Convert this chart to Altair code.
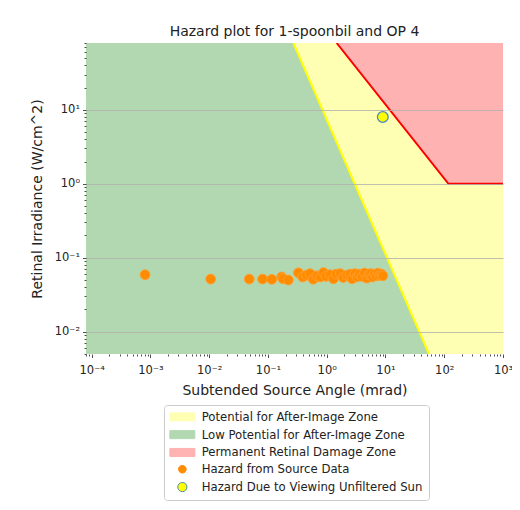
import altair as alt
import pandas as pd

# ---------------- data ----------------
x_domain = [8e-5, 1000]
y_domain = [0.005, 80]

# after-image threshold (yellow line)
afterimage_x = [0.27, 55]
afterimage_y = [80, 0.005]

# permanent retinal damage threshold (red line)
damage_x = [1.475, 118, 1000]
damage_y = [80, 1, 1]

# hazard from source data (orange points)
source_x = [0.00081, 0.0106, 0.048, 0.081, 0.116, 0.171, 0.18, 0.222, 0.33, 0.39,
            0.45, 0.52, 0.59, 0.68, 0.78, 0.88, 0.97, 1.14, 1.3, 1.45,
            1.7, 1.9, 2.2, 2.5, 2.7, 3.0, 3.3, 3.6, 4.0, 4.4,
            4.8, 5.2, 5.6, 6.0, 6.5, 7.0, 7.5, 8.0, 8.6, 9.0]
source_y = [0.059, 0.0515, 0.0515, 0.0515, 0.051, 0.055, 0.052, 0.050, 0.0626, 0.055,
            0.058, 0.061, 0.0513, 0.057, 0.055, 0.063, 0.056, 0.059, 0.052, 0.060,
            0.061, 0.054, 0.058, 0.060, 0.052, 0.061, 0.055, 0.060, 0.056, 0.062,
            0.053, 0.059, 0.061, 0.055, 0.060, 0.057, 0.062, 0.058, 0.060, 0.057]

# unfiltered sun
sun_x = [9.0]
sun_y = [8.0]

x_major = [0.0001, 0.001, 0.01, 0.1, 1, 10, 100, 1000]
x_labels = ["10⁻⁴", "10⁻³", "10⁻²", "10⁻¹", "10⁰", "10¹", "10²", "10³"]
y_major = [0.01, 0.1, 1, 10]
y_labels = ["10⁻²", "10⁻¹", "10⁰", "10¹"]

legend_labels = ["Potential for After-Image Zone",
                 "Low Potential for After-Image Zone",
                 "Permanent Retinal Damage Zone",
                 "Hazard from Source Data",
                 "Hazard Due to Viewing Unfiltered Sun"]

# ---------------- styles ----------------
YELLOW_ZONE = "#ffffb3"
GREEN_ZONE = "#b2d8b2"
RED_ZONE = "#ffb2b2"
ORANGE = "#ff8c00"
SUN_EDGE = "#4a8bbf"
FONT = "DejaVu Sans"
TXT = "#222222"


def minor_ticks(dom):
    out = []
    for d in range(-6, 4):
        for m in range(2, 10):
            v = m * 10.0 ** d
            if dom[0] <= v <= dom[1]:
                out.append(v)
    return out


def label_expr(vals, labs):
    parts = [f"datum.value == {v} ? '{l}'" for v, l in zip(vals, labs)]
    return " : ".join(parts) + " : ''"


def major_test(vals):
    return "indexof([" + ",".join(repr(v) for v in vals) + "], datum.value) >= 0"


x_axis = alt.Axis(
    values=sorted(x_major + minor_ticks(x_domain)),
    labelExpr=label_expr(x_major, x_labels),
    labelOverlap=False, labelFlush=False,
    grid=False, domain=False,
    tickColor=TXT, tickWidth=0.8,
    tickSize={"condition": {"test": major_test(x_major), "value": 3.5}, "value": 2},
    labelFont=FONT, labelFontSize=11.5, labelColor=TXT, labelPadding=7,
    title="Subtended Source Angle (mrad)", titleFont=FONT, titleFontSize=14,
    titleFontWeight="normal", titleColor=TXT, titlePadding=7, zindex=1,
)
y_axis = alt.Axis(
    values=sorted(y_major + minor_ticks(y_domain)),
    labelExpr=label_expr(y_major, y_labels),
    labelOverlap=False, labelFlush=False,
    grid=True, gridColor="#b0b0b0", gridWidth=0.8,
    gridOpacity={"condition": {"test": major_test(y_major), "value": 1}, "value": 0},
    domain=False,
    tickColor=TXT, tickWidth=0.8,
    tickSize={"condition": {"test": major_test(y_major), "value": 3.5}, "value": 2},
    labelFont=FONT, labelFontSize=11.5, labelColor=TXT, labelPadding=3,
    title="Retinal Irradiance (W/cm^2)", titleFont=FONT, titleFontSize=14,
    titleFontWeight="normal", titleColor=TXT, titlePadding=10, zindex=1,
)
xs = alt.Scale(type="log", domain=x_domain, nice=False)
ys = alt.Scale(type="log", domain=y_domain, nice=False)


def X(f="x"):
    return alt.X(f"{f}:Q", scale=xs, axis=x_axis)


def Y(f="y"):
    return alt.Y(f"{f}:Q", scale=ys, axis=y_axis)


yellow_df = pd.DataFrame({"x": x_domain, "y": y_domain[1], "y2": y_domain[0]})
green_df = pd.DataFrame({"x": [x_domain[0]] + afterimage_x,
                         "y": [y_domain[1]] + afterimage_y,
                         "y2": y_domain[0]})
red_df = pd.DataFrame({"x": damage_x, "y": damage_y, "y2": y_domain[1]})
yline_df = pd.DataFrame({"x": afterimage_x, "y": afterimage_y})
rline_df = pd.DataFrame({"x": damage_x, "y": damage_y})
src_df = pd.DataFrame({"x": source_x, "y": source_y})
sun_df = pd.DataFrame({"x": sun_x, "y": sun_y})
leg_df = pd.DataFrame({"zone": legend_labels})

yellow = alt.Chart(yellow_df).mark_area(color=YELLOW_ZONE, opacity=1, clip=True).encode(
    x=X(), y=Y(), y2="y2:Q")
green = alt.Chart(green_df).mark_area(color=GREEN_ZONE, opacity=1, clip=True).encode(
    x=X(), y=Y(), y2="y2:Q")
red = alt.Chart(red_df).mark_area(color=RED_ZONE, opacity=1, clip=True).encode(
    x=X(), y=Y(), y2="y2:Q")
yline = alt.Chart(yline_df).mark_line(color="#ffff00", strokeWidth=2, clip=True).encode(
    x=X(), y=Y())
rline = alt.Chart(rline_df).mark_line(color="#ff0000", strokeWidth=2, clip=True).encode(
    x=X(), y=Y())
src = alt.Chart(src_df).mark_point(filled=True, fill=ORANGE, stroke="#ff9d2e",
                                   strokeWidth=1, opacity=1, size=95).encode(x=X(), y=Y())
sun = alt.Chart(sun_df).mark_point(filled=True, fill="#ffff00", stroke=SUN_EDGE,
                                   strokeWidth=1.3, opacity=1, size=115).encode(x=X(), y=Y())

# legend symbols (unit = 4 px for symbolSize 64)
rect_path = "M-1.5,-1 L4.75,-1 L4.75,1 L-1.5,1 Z"


def circ(r, cx=1.625):
    return (f"M{cx - r},0 A{r},{r} 0 1,0 {cx + r},0 A{r},{r} 0 1,0 {cx - r},0 Z")


leg_shapes = [rect_path, rect_path, rect_path, circ(0.95), circ(1.15)]
leg_fill = [YELLOW_ZONE, GREEN_ZONE, RED_ZONE, ORANGE, "#ffff00"]
leg_stroke = [YELLOW_ZONE, GREEN_ZONE, RED_ZONE, ORANGE, SUN_EDGE]

legend = alt.Legend(
    title=None, orient="none", legendX=78, legendY=362, direction="vertical",
    strokeColor="#cccccc", fillColor="white", cornerRadius=3, padding=6,
    labelFont=FONT, labelFontSize=11.7, labelColor=TXT, labelOffset=20,
    rowPadding=3.8, symbolSize=64, symbolStrokeWidth=1, labelLimit=400,
)
leg = alt.Chart(leg_df).transform_filter("false").mark_point(filled=True, opacity=1).encode(
    fill=alt.Fill("zone:N", scale=alt.Scale(domain=legend_labels, range=leg_fill), legend=legend),
    stroke=alt.Stroke("zone:N", scale=alt.Scale(domain=legend_labels, range=leg_stroke), legend=legend),
    shape=alt.Shape("zone:N", scale=alt.Scale(domain=legend_labels, range=leg_shapes), legend=legend),
)

chart = alt.layer(yellow, green, red, yline, rline, src, sun, leg).properties(
    width=417, height=311,
    autosize=alt.AutoSizeParams(type="none"),
    padding={"left": 78, "top": 35, "right": 9, "bottom": 148},
    title=alt.TitleParams("Hazard plot for 1-spoonbil and OP 4", font=FONT, fontSize=14,
                          fontWeight="normal", color=TXT, offset=6, dy=8),
    background="white",
).configure_view(stroke="transparent")

chart.save("out.html", embed_options={"renderer": "svg", "actions": False})
